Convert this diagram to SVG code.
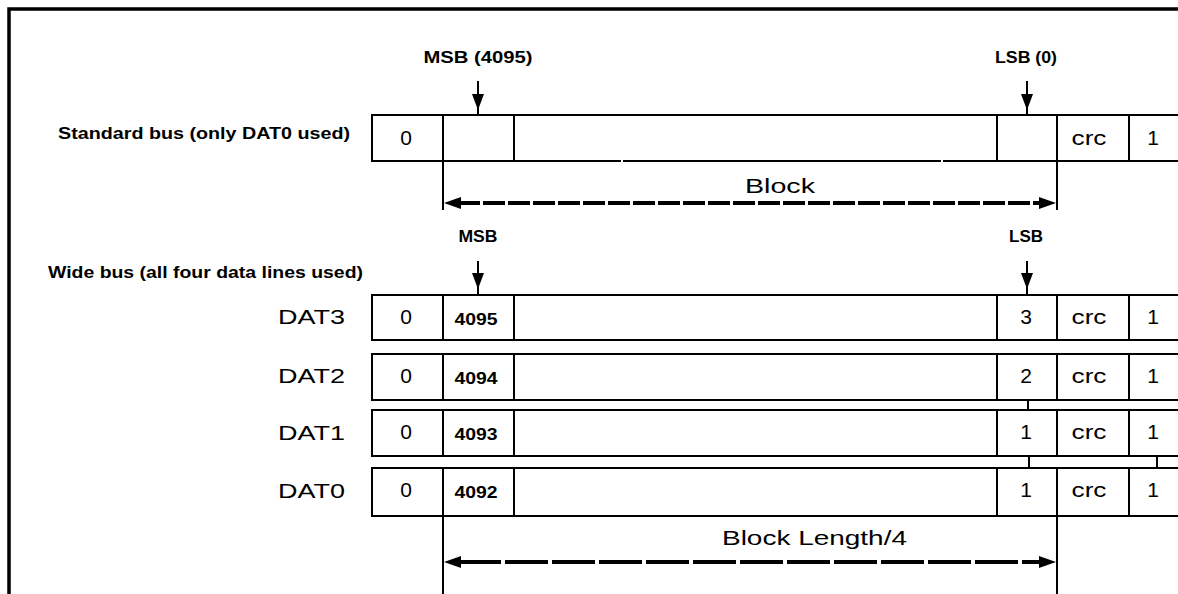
<svg xmlns="http://www.w3.org/2000/svg" width="1178" height="594" viewBox="0 0 1178 594">
<defs>
<style>
.cell{fill:#fff;stroke:#000;stroke-width:2}
.ln{stroke:#000;stroke-width:2;fill:none}
.txt{font-family:"Liberation Sans",Arial,sans-serif;font-size:21px;fill:#000}
.mid{text-anchor:middle}
.end{text-anchor:end}
.bold{font-family:"Liberation Sans",Arial,sans-serif;font-weight:bold;font-size:16px;fill:#000}
.dim{stroke:#000;stroke-width:4;fill:none}
.head{fill:#000}
</style>
</defs>
<rect width="1178" height="594" fill="#fff"/>
<path d="M9 594 V9 H1178" fill="none" stroke="#000" stroke-width="3.5"/>

<g id="standard-label">
<text class="bold" x="58" y="139" textLength="292" lengthAdjust="spacingAndGlyphs">Standard bus (only DAT0 used)</text>
</g>
<g id="standard-row">
<rect class="cell" x="372" y="115" width="820" height="46"/>
<line class="ln" x1="443" y1="115" x2="443" y2="161"/>
<line class="ln" x1="514" y1="115" x2="514" y2="161"/>
<line class="ln" x1="997" y1="115" x2="997" y2="161"/>
<line class="ln" x1="1057" y1="115" x2="1057" y2="161"/>
<line class="ln" x1="1129" y1="115" x2="1129" y2="161"/>
<rect x="621" y="159" width="2" height="4" fill="#fff"/>
<rect x="941" y="159" width="2" height="4" fill="#fff"/>
<text class="txt mid" x="406" y="145">0</text>
<text class="txt mid" x="1089" y="145" textLength="35" lengthAdjust="spacingAndGlyphs">crc</text>
<text class="txt mid" x="1153" y="145">1</text>
</g>
<g id="std-msb-label"><text class="bold mid" x="478" y="63" textLength="109" lengthAdjust="spacingAndGlyphs">MSB (4095)</text></g>
<g id="std-lsb-label"><text class="bold mid" x="1026" y="63" textLength="62" lengthAdjust="spacingAndGlyphs">LSB (0)</text></g>

<g id="wide-label">
<text class="bold" x="48" y="278" textLength="315" lengthAdjust="spacingAndGlyphs">Wide bus (all four data lines used)</text>
</g>
<g id="wide-msb-label"><text class="bold mid" x="478" y="242" textLength="39" lengthAdjust="spacingAndGlyphs">MSB</text></g>
<g id="wide-lsb-label"><text class="bold mid" x="1026" y="242" textLength="34" lengthAdjust="spacingAndGlyphs">LSB</text></g>

<g id="dat3">
<text class="txt end" x="345" y="324" textLength="67" lengthAdjust="spacingAndGlyphs">DAT3</text>
<rect class="cell" x="372" y="295" width="820" height="45"/>
<line class="ln" x1="443" y1="295" x2="443" y2="340"/>
<line class="ln" x1="514" y1="295" x2="514" y2="340"/>
<line class="ln" x1="997" y1="295" x2="997" y2="340"/>
<line class="ln" x1="1057" y1="295" x2="1057" y2="340"/>
<line class="ln" x1="1129" y1="295" x2="1129" y2="340"/>
<text class="txt mid" x="406" y="324">0</text>
<text class="bold mid" x="476" y="325" font-size="14" textLength="43" lengthAdjust="spacingAndGlyphs">4095</text>
<text class="txt mid" x="1026" y="324">3</text>
<text class="txt mid" x="1089" y="324" textLength="35" lengthAdjust="spacingAndGlyphs">crc</text>
<text class="txt mid" x="1153" y="324">1</text>
</g>
<g id="dat2">
<text class="txt end" x="345" y="383" textLength="67" lengthAdjust="spacingAndGlyphs">DAT2</text>
<rect class="cell" x="372" y="354" width="820" height="46"/>
<line class="ln" x1="443" y1="354" x2="443" y2="400"/>
<line class="ln" x1="514" y1="354" x2="514" y2="400"/>
<line class="ln" x1="997" y1="354" x2="997" y2="400"/>
<line class="ln" x1="1057" y1="354" x2="1057" y2="400"/>
<line class="ln" x1="1129" y1="354" x2="1129" y2="400"/>
<text class="txt mid" x="406" y="383">0</text>
<text class="bold mid" x="476" y="384" font-size="14" textLength="43" lengthAdjust="spacingAndGlyphs">4094</text>
<text class="txt mid" x="1026" y="383">2</text>
<text class="txt mid" x="1089" y="383" textLength="35" lengthAdjust="spacingAndGlyphs">crc</text>
<text class="txt mid" x="1153" y="383">1</text>
</g>
<g id="dat1">
<text class="txt end" x="345" y="440" textLength="67" lengthAdjust="spacingAndGlyphs">DAT1</text>
<rect class="cell" x="372" y="410" width="820" height="46"/>
<line class="ln" x1="443" y1="410" x2="443" y2="456"/>
<line class="ln" x1="514" y1="410" x2="514" y2="456"/>
<line class="ln" x1="997" y1="410" x2="997" y2="456"/>
<line class="ln" x1="1057" y1="410" x2="1057" y2="456"/>
<line class="ln" x1="1129" y1="410" x2="1129" y2="456"/>
<text class="txt mid" x="406" y="439">0</text>
<text class="bold mid" x="476" y="440" font-size="14" textLength="43" lengthAdjust="spacingAndGlyphs">4093</text>
<text class="txt mid" x="1026" y="439">1</text>
<text class="txt mid" x="1089" y="439" textLength="35" lengthAdjust="spacingAndGlyphs">crc</text>
<text class="txt mid" x="1153" y="439">1</text>
</g>
<g id="dat0">
<text class="txt end" x="345" y="498" textLength="67" lengthAdjust="spacingAndGlyphs">DAT0</text>
<rect class="cell" x="372" y="468" width="820" height="48"/>
<line class="ln" x1="443" y1="468" x2="443" y2="516"/>
<line class="ln" x1="514" y1="468" x2="514" y2="516"/>
<line class="ln" x1="997" y1="468" x2="997" y2="516"/>
<line class="ln" x1="1057" y1="468" x2="1057" y2="516"/>
<line class="ln" x1="1129" y1="468" x2="1129" y2="516"/>
<text class="txt mid" x="406" y="497">0</text>
<text class="bold mid" x="476" y="498" font-size="14" textLength="43" lengthAdjust="spacingAndGlyphs">4092</text>
<text class="txt mid" x="1026" y="497">1</text>
<text class="txt mid" x="1089" y="497" textLength="35" lengthAdjust="spacingAndGlyphs">crc</text>
<text class="txt mid" x="1153" y="497">1</text>
</g>

<g id="connectors">
<line class="ln" x1="478" y1="81" x2="478" y2="115"/>
<path class="head" d="M472 94 H484 L478 110 Z"/>
<line class="ln" x1="1027" y1="81" x2="1027" y2="115"/>
<path class="head" d="M1021 94 H1033 L1027 110 Z"/>
<line class="ln" x1="478" y1="261" x2="478" y2="295"/>
<path class="head" d="M472 273 H484 L478 289 Z"/>
<line class="ln" x1="1027" y1="261" x2="1027" y2="295"/>
<path class="head" d="M1021 273 H1033 L1027 289 Z"/>
<line class="ln" x1="1028" y1="400" x2="1028" y2="410"/>
<line class="ln" x1="1029" y1="456" x2="1029" y2="468"/>
<line class="ln" x1="1157" y1="456" x2="1157" y2="468"/>
<line class="ln" x1="443" y1="161" x2="443" y2="210"/>
<line class="ln" x1="1057" y1="161" x2="1057" y2="210"/>
<line class="dim" x1="458" y1="203" x2="1042" y2="203" stroke-dasharray="22 3"/>
<path class="head" d="M444 203 L461 197 V209 Z"/>
<path class="head" d="M1056 203 L1039 197 V209 Z"/>
<line class="ln" x1="443" y1="516" x2="443" y2="594"/>
<line class="ln" x1="1057" y1="516" x2="1057" y2="594"/>
<line class="dim" x1="458" y1="562" x2="1042" y2="562" stroke-dasharray="43 4"/>
<path class="head" d="M444 562 L461 556 V568 Z"/>
<path class="head" d="M1056 562 L1039 556 V568 Z"/>
</g>
<g id="dim-labels">
<text class="txt" x="745" y="193" textLength="70" lengthAdjust="spacingAndGlyphs">Block</text>
<text class="txt" x="722" y="545" textLength="185" lengthAdjust="spacingAndGlyphs">Block Length/4</text>
</g>
</svg>
